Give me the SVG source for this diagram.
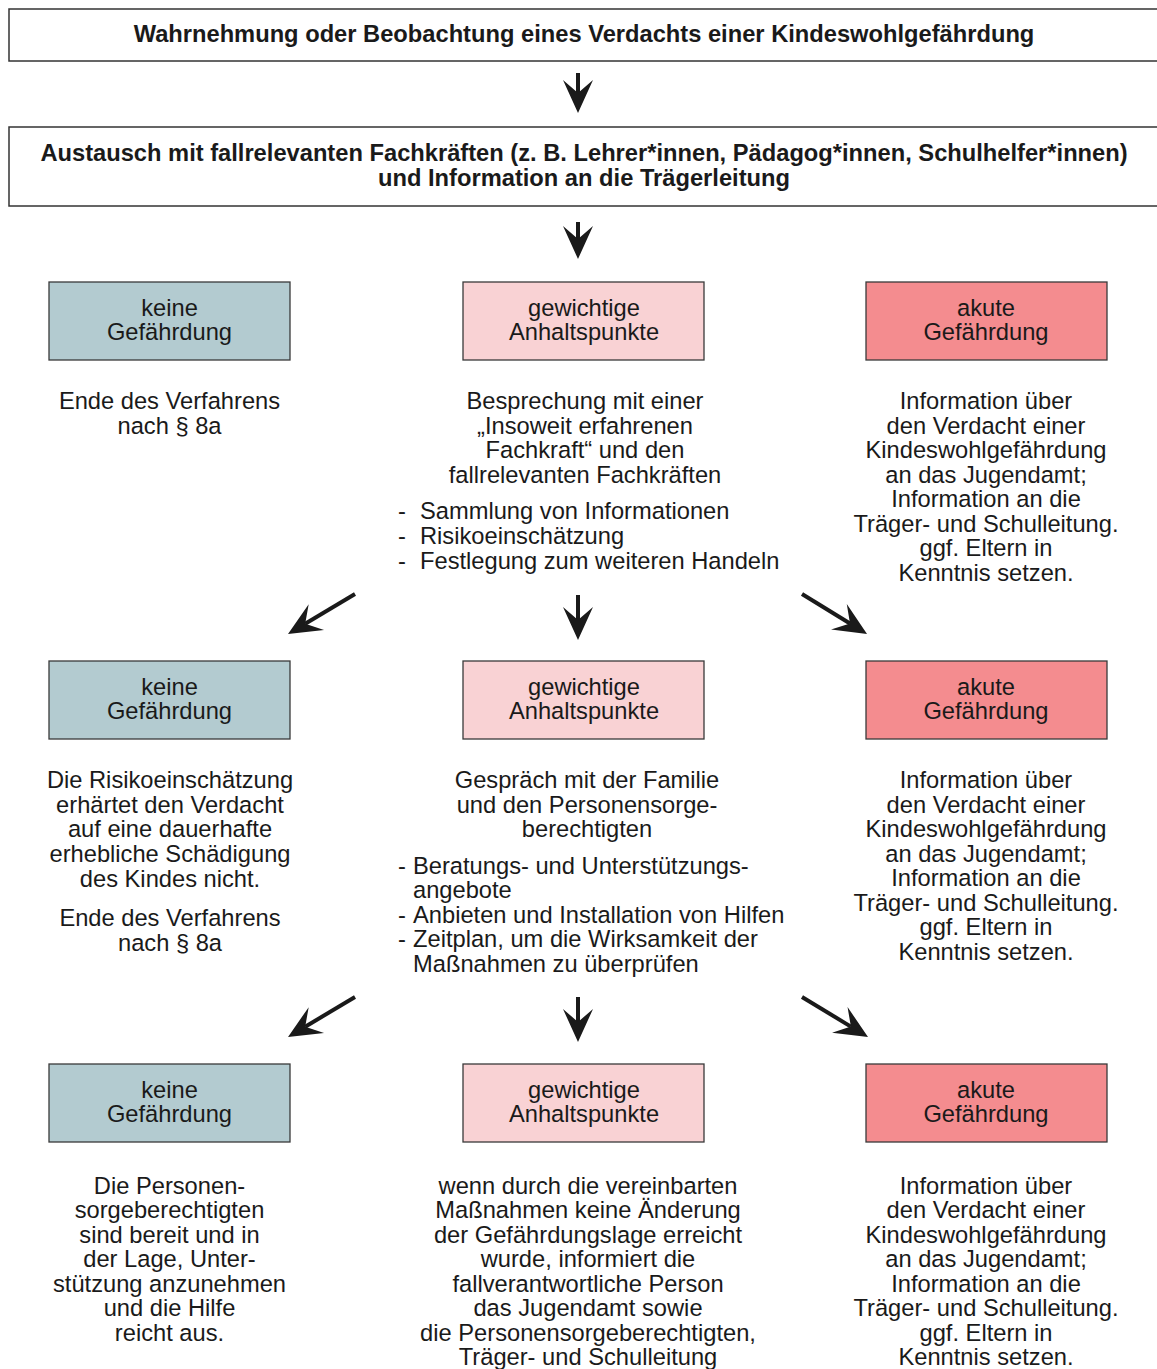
<svg xmlns="http://www.w3.org/2000/svg" width="1157" height="1369" viewBox="0 0 1157 1369">
<style>
text{font-family:"Liberation Sans",Arial,sans-serif;font-size:23.7px;fill:#1a1a1a}
.c{text-anchor:middle}
.h{font-weight:bold;font-size:23.7px}
.top{fill:#fff;stroke:#333;stroke-width:1.5}
.box{stroke:#3a3a3a;stroke-width:1.3}
.blue{fill:#b3cbd0}
.pink{fill:#f9d2d4}
.red{fill:#f48c8f}
.arr{stroke:#1a1a1a;stroke-width:4;fill:none;marker-end:url(#ah)}
</style>
<defs>
<marker id="ah" markerUnits="userSpaceOnUse" viewBox="-34 -16 36 32" markerWidth="36" markerHeight="32" refX="-20" refY="0" orient="auto">
<path d="M0,0 L-33,-15 L-20,0 L-33,15 Z" fill="#1a1a1a"/>
</marker>
</defs>
<rect width="1157" height="1369" fill="#fff"/>

<g id="n-start">
<rect class="top" x="9" y="9" width="1160" height="52"/>
<text class="c h" x="584" y="42">Wahrnehmung oder Beobachtung eines Verdachts einer Kindeswohlgefährdung</text>
</g>
<g id="n-austausch">
<rect class="top" x="9" y="127" width="1160" height="79"/>
<text class="c h" x="584" y="161">Austausch mit fallrelevanten Fachkräften (z. B. Lehrer*innen, Pädagog*innen, Schulhelfer*innen)</text>
<text class="c h" x="584" y="186">und Information an die Trägerleitung</text>
</g>

<g id="n-keine1">
<rect class="box blue" x="49" y="282" width="241" height="78"/>
<text class="c" x="169.5" y="316">keine</text>
<text class="c" x="169.5" y="340">Gefährdung</text>
</g>
<g id="n-gew1">
<rect class="box pink" x="463" y="282" width="241" height="78"/>
<text class="c" x="584" y="316">gewichtige</text>
<text class="c" x="584" y="340">Anhaltspunkte</text>
</g>
<g id="n-akut1">
<rect class="box red" x="866" y="282" width="241" height="78"/>
<text class="c" x="986" y="316">akute</text>
<text class="c" x="986" y="340">Gefährdung</text>
</g>

<g id="t-keine1">
<text class="c" x="169.5" y="409">Ende des Verfahrens</text>
<text class="c" x="169.5" y="434">nach § 8a</text>
</g>
<g id="t-gew1">
<text class="c" x="585" y="409">Besprechung mit einer</text>
<text class="c" x="585" y="434">„Insoweit erfahrenen</text>
<text class="c" x="585" y="458">Fachkraft“ und den</text>
<text class="c" x="585" y="483">fallrelevanten Fachkräften</text>
<text x="398" y="519">-</text><text x="420" y="519">Sammlung von Informationen</text>
<text x="398" y="544">-</text><text x="420" y="544">Risikoeinschätzung</text>
<text x="398" y="569">-</text><text x="420" y="569">Festlegung zum weiteren Handeln</text>
</g>
<g id="t-akut1">
<text class="c" x="986" y="409">Information über</text>
<text class="c" x="986" y="434">den Verdacht einer</text>
<text class="c" x="986" y="458">Kindeswohlgefährdung</text>
<text class="c" x="986" y="483">an das Jugendamt;</text>
<text class="c" x="986" y="507">Information an die</text>
<text class="c" x="986" y="532">Träger- und Schulleitung.</text>
<text class="c" x="986" y="556">ggf. Eltern in</text>
<text class="c" x="986" y="581">Kenntnis setzen.</text>
</g>

<g id="n-keine2">
<rect class="box blue" x="49" y="661" width="241" height="78"/>
<text class="c" x="169.5" y="695">keine</text>
<text class="c" x="169.5" y="719">Gefährdung</text>
</g>
<g id="n-gew2">
<rect class="box pink" x="463" y="661" width="241" height="78"/>
<text class="c" x="584" y="695">gewichtige</text>
<text class="c" x="584" y="719">Anhaltspunkte</text>
</g>
<g id="n-akut2">
<rect class="box red" x="866" y="661" width="241" height="78"/>
<text class="c" x="986" y="695">akute</text>
<text class="c" x="986" y="719">Gefährdung</text>
</g>

<g id="t-keine2">
<text class="c" x="170" y="788">Die Risikoeinschätzung</text>
<text class="c" x="170" y="813">erhärtet den Verdacht</text>
<text class="c" x="170" y="837">auf eine dauerhafte</text>
<text class="c" x="170" y="862">erhebliche Schädigung</text>
<text class="c" x="170" y="887">des Kindes nicht.</text>
<text class="c" x="170" y="926">Ende des Verfahrens</text>
<text class="c" x="170" y="951">nach § 8a</text>
</g>
<g id="t-gew2">
<text class="c" x="587" y="788">Gespräch mit der Familie</text>
<text class="c" x="587" y="813">und den Personensorge-</text>
<text class="c" x="587" y="837">berechtigten</text>
<text x="398" y="874">-</text><text x="413" y="874">Beratungs- und Unterstützungs-</text>
<text x="413" y="898">angebote</text>
<text x="398" y="923">-</text><text x="413" y="923">Anbieten und Installation von Hilfen</text>
<text x="398" y="947">-</text><text x="413" y="947">Zeitplan, um die Wirksamkeit der</text>
<text x="413" y="972">Maßnahmen zu überprüfen</text>
</g>
<g id="t-akut2">
<text class="c" x="986" y="788">Information über</text>
<text class="c" x="986" y="813">den Verdacht einer</text>
<text class="c" x="986" y="837">Kindeswohlgefährdung</text>
<text class="c" x="986" y="862">an das Jugendamt;</text>
<text class="c" x="986" y="886">Information an die</text>
<text class="c" x="986" y="911">Träger- und Schulleitung.</text>
<text class="c" x="986" y="935">ggf. Eltern in</text>
<text class="c" x="986" y="960">Kenntnis setzen.</text>
</g>

<g id="n-keine3">
<rect class="box blue" x="49" y="1064" width="241" height="78"/>
<text class="c" x="169.5" y="1098">keine</text>
<text class="c" x="169.5" y="1122">Gefährdung</text>
</g>
<g id="n-gew3">
<rect class="box pink" x="463" y="1064" width="241" height="78"/>
<text class="c" x="584" y="1098">gewichtige</text>
<text class="c" x="584" y="1122">Anhaltspunkte</text>
</g>
<g id="n-akut3">
<rect class="box red" x="866" y="1064" width="241" height="78"/>
<text class="c" x="986" y="1098">akute</text>
<text class="c" x="986" y="1122">Gefährdung</text>
</g>

<g id="t-keine3">
<text class="c" x="169.5" y="1194">Die Personen-</text>
<text class="c" x="169.5" y="1218">sorgeberechtigten</text>
<text class="c" x="169.5" y="1243">sind bereit und in</text>
<text class="c" x="169.5" y="1267">der Lage, Unter-</text>
<text class="c" x="169.5" y="1292">stützung anzunehmen</text>
<text class="c" x="169.5" y="1316">und die Hilfe</text>
<text class="c" x="169.5" y="1341">reicht aus.</text>
</g>
<g id="t-gew3">
<text class="c" x="588" y="1194">wenn durch die vereinbarten</text>
<text class="c" x="588" y="1218">Maßnahmen keine Änderung</text>
<text class="c" x="588" y="1243">der Gefährdungslage erreicht</text>
<text class="c" x="588" y="1267">wurde, informiert die</text>
<text class="c" x="588" y="1292">fallverantwortliche Person</text>
<text class="c" x="588" y="1316">das Jugendamt sowie</text>
<text class="c" x="588" y="1341">die Personensorgeberechtigten,</text>
<text class="c" x="588" y="1365">Träger- und Schulleitung</text>
</g>
<g id="t-akut3">
<text class="c" x="986" y="1194">Information über</text>
<text class="c" x="986" y="1218">den Verdacht einer</text>
<text class="c" x="986" y="1243">Kindeswohlgefährdung</text>
<text class="c" x="986" y="1267">an das Jugendamt;</text>
<text class="c" x="986" y="1292">Information an die</text>
<text class="c" x="986" y="1316">Träger- und Schulleitung.</text>
<text class="c" x="986" y="1341">ggf. Eltern in</text>
<text class="c" x="986" y="1365">Kenntnis setzen.</text>
</g>

<g id="connectors">
<line class="arr" x1="578" y1="73" x2="578" y2="93"/>
<line class="arr" x1="578" y1="222" x2="578" y2="239"/>
<line class="arr" x1="578" y1="595" x2="578" y2="620"/>
<line class="arr" x1="578" y1="997" x2="578" y2="1022"/>
<line class="arr" x1="355" y1="594" x2="305.2" y2="623.7"/>
<line class="arr" x1="802" y1="594" x2="850" y2="623.5"/>
<line class="arr" x1="355" y1="997" x2="305.2" y2="1026.7"/>
<line class="arr" x1="802" y1="997" x2="850.9" y2="1026.6"/>
</g>
</svg>
